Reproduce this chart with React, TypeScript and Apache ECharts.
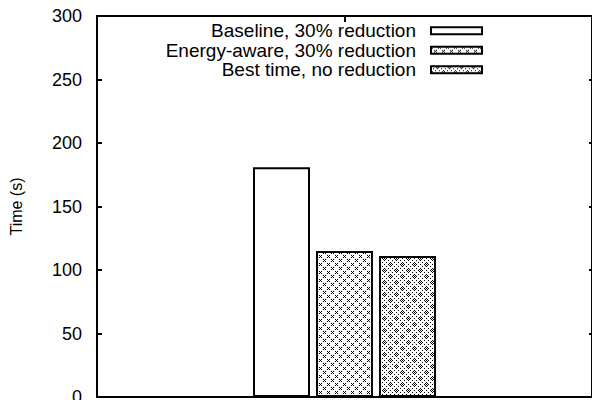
import React, { useEffect, useRef } from "react";
import * as echarts from "echarts";

const categories = ["Run"];
const seriesNames = ["Baseline, 30% reduction", "Energy-aware, 30% reduction", "Best time, no reduction"];
const baselineValues = [181];
const energyAwareValues = [115];
const bestTimeValues = [111];
const yTicks = { min: 0, max: 300, interval: 50 };

function makePattern(kind: "cross" | "ring") {
  const size = kind === "cross" ? 8 : 12;
  const c = document.createElement("canvas");
  c.width = size;
  c.height = size;
  const ctx = c.getContext("2d")!;
  ctx.fillStyle = "#ffffff";
  ctx.fillRect(0, 0, size, size);
  ctx.fillStyle = "#000000";
  const dot = (x: number, y: number) => {
    ctx.fillRect(((x % size) + size) % size, ((y % size) + size) % size, 1, 1);
  };
  for (let y = 0; y < size; y++) {
    for (let x = 0; x < size; x++) {
      const onDiag = (x - y + size) % size === 0 || (x + y) % size === 0;
      if (!onDiag) continue;
      if (kind === "cross") {
        if (x % 4 !== 2) dot(x, y);
      } else if (x % 2 === 0) {
        dot(x, y);
      }
    }
  }
  if (kind === "ring") {
    const centers = [
      [size / 2, 0],
      [0, size / 2],
    ];
    for (const [cx, cy] of centers) {
      dot(cx - 2, cy);
      dot(cx + 2, cy);
      dot(cx, cy - 2);
      dot(cx, cy + 2);
      dot(cx - 1, cy - 1);
      dot(cx + 1, cy + 1);
      dot(cx - 1, cy + 1);
      dot(cx + 1, cy - 1);
      dot(cx, cy);
    }
  }
  return { image: c.toDataURL(), repeat: "repeat", imageWidth: size, imageHeight: size };
}

export default function App() {
  const ref = useRef<HTMLDivElement>(null);
  useEffect(() => {
    if (!ref.current) return;
    const chart = echarts.init(ref.current, null, { renderer: "svg" });
    const font = "Liberation Sans, Arial, Helvetica, sans-serif";
    const crossFill = makePattern("cross");
    const ringFill = makePattern("ring");
    const barStyle = (fill: any) => ({ color: fill, borderColor: "#000", borderWidth: 2 });
    chart.setOption({
      animation: false,
      backgroundColor: "#ffffff",
      textStyle: { fontFamily: font },
      grid: { left: 97, right: 0, top: 16, bottom: 3, outerBoundsMode: "none", containLabel: false },
      legend: {
        orient: "vertical",
        align: "right",
        right: 109,
        top: 21,
        padding: 0,
        itemGap: 0,
        itemWidth: 51,
        itemHeight: 7,
        icon: "rect",
        data: seriesNames,
        textStyle: { fontFamily: font, fontSize: 19, color: "#000", lineHeight: 19.5, padding: [0, 10, 0, 0] },
      },
      xAxis: [
        {
          type: "category",
          data: categories,
          position: "bottom",
          axisLine: { onZero: false, lineStyle: { color: "#000", width: 2 } },
          axisTick: { show: false },
          axisLabel: { show: false },
        },
        {
          type: "category",
          data: categories,
          position: "top",
          axisLine: { onZero: false, lineStyle: { color: "#000", width: 2 } },
          axisTick: { show: true, inside: true, alignWithLabel: true, length: 6, lineStyle: { color: "#000", width: 2 } },
          axisLabel: { show: false },
        },
      ],
      yAxis: [
        {
          type: "value",
          min: yTicks.min,
          max: yTicks.max,
          interval: yTicks.interval,
          name: "Time (s)",
          nameLocation: "middle",
          nameRotate: 90,
          nameGap: 73,
          nameTextStyle: { fontFamily: font, fontSize: 16, color: "#000" },
          axisLine: { show: true, lineStyle: { color: "#000", width: 2 } },
          axisTick: { show: true, inside: true, length: 5, lineStyle: { color: "#000", width: 2 } },
          axisLabel: { fontFamily: font, fontSize: 18, color: "#000", margin: 15 },
          splitLine: { show: false },
        },
        {
          type: "value",
          position: "right",
          min: yTicks.min,
          max: yTicks.max,
          interval: yTicks.interval,
          axisLine: { show: true, lineStyle: { color: "#000", width: 2 } },
          axisTick: { show: true, inside: true, length: 3, lineStyle: { color: "#000", width: 2 } },
          axisLabel: { show: false },
          splitLine: { show: false },
        },
      ],
      series: [
        { name: seriesNames[0], type: "bar", data: baselineValues, barWidth: 57, barGap: "10.5%", itemStyle: barStyle("#ffffff") },
        { name: seriesNames[1], type: "bar", data: energyAwareValues, barWidth: 57, barGap: "10.5%", itemStyle: barStyle(crossFill) },
        { name: seriesNames[2], type: "bar", data: bestTimeValues, barWidth: 57, barGap: "10.5%", itemStyle: barStyle(ringFill) },
      ],
    });
    return () => chart.dispose();
  }, []);
  return <div ref={ref} style={{ width: 592, height: 400, position: "fixed", left: 0, top: 0 }} />;
}
